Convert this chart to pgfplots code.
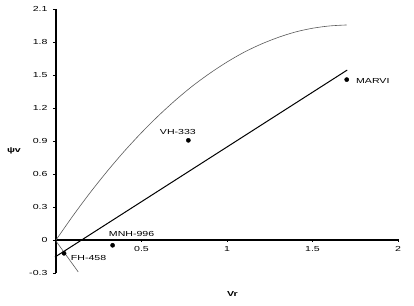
\documentclass[border=0pt]{standalone}
\usepackage{fontspec}
\setmainfont[FakeStretch=1.45]{Liberation Sans}
\usepackage{pgfplots}
\pgfplotsset{compat=1.18}
\begin{document}
\begin{tikzpicture}
\useasboundingbox (-56pt,-32.7pt) rectangle (358pt,273pt);
\begin{axis}[
  at={(0,0)}, anchor=south west,
  scale only axis, width=342pt, height=264pt,
  xmin=0, xmax=2, ymin=-0.3, ymax=2.1,
  axis x line=middle, axis y line=left,
  axis line style={-, black, line width=1.1pt},
  xtick={0.5,1,1.5,2}, xticklabels={0.5,1,1.5,2},
  ytick={-0.3,0,0.3,0.6,0.9,1.2,1.5,1.8,2.1},
  yticklabels={-0.3,0,0.3,0.6,0.9,1.2,1.5,1.8,2.1},
  major tick length=3pt,
  tick style={black, line width=0.8pt},
  xtick align=center, ytick align=outside,
  tick label style={font=\fontsize{7.3}{8}\selectfont},
  xticklabel style={anchor=north, yshift=-1pt},
  yticklabel style={anchor=east, xshift=-2pt},
  clip=false,
]
% upper curve
\addplot[gray!70!black, line width=0.6pt, smooth] coordinates {
 (0,0) (0.1,0.222) (0.2,0.431) (0.3,0.626) (0.4,0.808) (0.5,0.976)
 (0.6,1.131) (0.7,1.273) (0.8,1.402) (0.9,1.516) (1.0,1.618) (1.1,1.707)
 (1.2,1.781) (1.3,1.842) (1.4,1.891) (1.5,1.925) (1.6,1.946) (1.7,1.955)};
% short lower line
\addplot[gray!70!black, line width=0.6pt] coordinates {(0,-0.01) (0.13,-0.29)};
% regression line
\addplot[black, line width=1pt] coordinates {(-0.006,-0.155) (1.703,1.545)};
% points
\addplot[only marks, mark=*, mark size=2.1pt, black] coordinates {
 (1.70,1.458) (0.774,0.906) (0.331,-0.048) (0.047,-0.121)};
\node[anchor=west, font=\fontsize{7.3}{8}\selectfont, inner sep=0pt] at (axis cs:1.754,1.45) {MARVI};
\node[font=\fontsize{7.3}{8}\selectfont, inner sep=0pt] at (axis cs:0.713,0.979) {VH-333};
\node[font=\fontsize{7.3}{8}\selectfont, inner sep=0pt] at (axis cs:0.442,0.058) {MNH-996};
\node[anchor=west, font=\fontsize{7.3}{8}\selectfont, inner sep=0pt] at (axis cs:0.086,-0.16) {FH-458};
\node[font=\bfseries\fontsize{7.3}{8}\selectfont, inner sep=0pt] at (axis cs:-0.246,0.806) {ψv};
\node[font=\bfseries\fontsize{7.3}{8}\selectfont, inner sep=0pt] at (axis cs:1.032,-0.494) {Vr};
\end{axis}
\end{tikzpicture}
\end{document}
